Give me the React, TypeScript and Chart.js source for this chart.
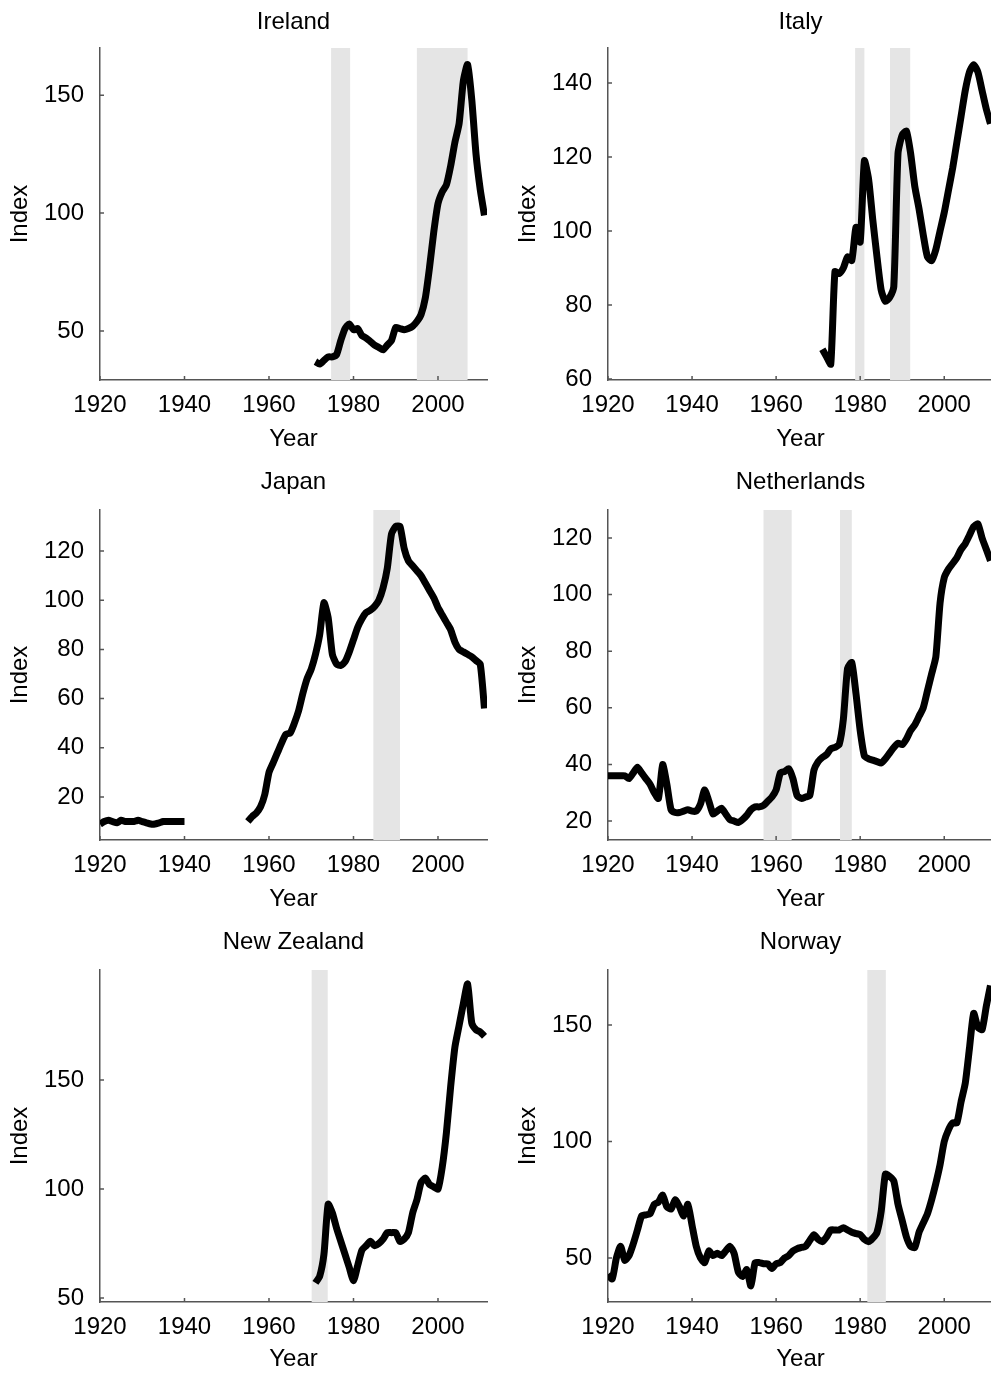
import { useEffect, useRef } from "react"
import { Chart, registerables } from "chart.js"

Chart.register(...registerables)

const FONT = "'Liberation Sans', Arial, sans-serif"
const X_TICKS = [1920, 1940, 1960, 1980, 2000]

// Ireland
const IRELAND_START = 1971
const IRELAND = [37, 36, 37.5, 39, 39, 40, 46, 51, 53, 50.5, 51, 48, 47, 45.5, 44, 43, 42, 44, 46, 51.5, 51, 50.5, 51, 52, 54, 57, 64, 77, 92, 104, 109, 112, 120, 130, 138, 156, 163, 148, 125, 110, 99]
const IRELAND_BANDS = [[1974.7, 1979.2], [1995, 2007]]
const IRELAND_YTICKS = [50, 100, 150]

// Italy
const ITALY_START = 1971
const ITALY = [68, 66, 64, 89, 88.5, 90, 93, 92, 101, 97, 119, 114, 103, 93, 84, 81, 82, 85, 121, 126, 127, 121, 112, 106, 99, 93, 92, 95, 100, 105, 111, 117, 124, 131, 138, 143, 145, 143, 138, 133, 129]
const ITALY_BANDS = [[1978.8, 1981], [1987.1, 1991.9]]
const ITALY_YTICKS = [60, 80, 100, 120, 140]

// Japan (two runs, gap 1941-1954)
const JAPAN_PRE_START = 1920
const JAPAN_PRE = [9, 10, 10.5, 10, 9.5, 10.5, 10, 10, 10, 10.5, 10, 9.5, 9, 9, 9.5, 10, 10, 10, 10, 10, 10]
const JAPAN_POST_START = 1955
const JAPAN_POST = [10, 12, 13.5, 16, 21, 30, 34, 38, 42, 45.5, 46, 50, 55, 62, 68, 72, 78, 86, 99, 93, 78, 74, 73.5, 75, 79, 84, 89, 92.5, 95, 96, 97.5, 100, 105, 113, 127, 130, 130, 121, 116, 114, 112, 110, 107, 104, 101, 97, 94, 91, 88, 83, 80, 79, 78, 77, 75.5, 74, 56]
const JAPAN_BANDS = [[1984.7, 1991]]
const JAPAN_YTICKS = [20, 40, 60, 80, 100, 120]

// Netherlands
const NETH_START = 1920
const NETH = [36, 36, 36, 36, 36, 35, 37, 39, 37, 35, 33, 30, 28, 40, 33, 24, 23, 23, 23.5, 24, 23.5, 23.5, 26, 31, 27, 22.5, 23.5, 24.5, 22.5, 20.5, 20, 19.5, 20.5, 22, 24, 25, 25, 25.5, 27, 28.5, 31, 37, 37.5, 38.5, 35, 29, 28, 28.5, 29, 38, 41, 42.5, 43.5, 45.5, 46, 47, 56, 74, 76, 65, 52, 43, 42, 41.5, 41, 40.5, 42, 44, 46, 47.5, 47, 49, 52, 54, 57, 60, 66, 72, 78, 97, 106, 109, 111, 113, 116, 118, 121, 124, 125, 120, 116, 112]
const NETH_BANDS = [[1957, 1963.7], [1975.2, 1978]]
const NETH_YTICKS = [20, 40, 60, 80, 100, 120]

// New Zealand
const NZ_START = 1971
const NZ = [57, 60, 70, 93, 89, 82, 76, 70, 64, 58, 65, 72, 74, 76, 74, 75, 77, 80, 80, 80, 76, 77, 80, 89, 95, 103, 105, 102, 101, 100, 110, 126, 147, 165, 175, 185, 194, 176, 173, 172, 170]
const NZ_BANDS = [[1970.1, 1973.9]]
const NZ_YTICKS = [50, 100, 150]

// Norway
const NORWAY_START = 1920
const NORWAY = [43, 41, 50, 55, 49, 51, 56, 62, 68, 68.5, 69, 73, 74, 77, 72, 71, 75, 72, 68, 73, 64, 55, 50, 48, 53, 51, 52, 51, 53, 55, 52, 44, 42, 45, 38, 48, 48, 47.5, 47.5, 45.5, 47.5, 48, 50, 51, 53, 54, 54.5, 55, 57.5, 60, 58, 57, 59, 62, 62, 62, 63, 62, 61, 60.5, 60, 58, 57, 58.5, 61, 70, 86, 85, 83, 73, 66, 59, 55, 54.5, 61, 65, 69, 75, 82, 90, 100, 105, 108, 108, 117, 125, 140, 155, 149, 148, 158, 167]
const NORWAY_BANDS = [[1981.7, 1986.1]]
const NORWAY_YTICKS = [50, 100, 150]

const toPoints = (start: number, vals: number[]) => vals.map((v, i) => ({ x: start + i, y: v }))

const AXIS = "#555"

// shaded bands behind the line, and short inward tick marks
const bandPlugin = {
  id: "bands",
  beforeDatasetsDraw(chart: any, _args: any, opts: any) {
    const { ctx, chartArea, scales } = chart
    ctx.save()
    ctx.fillStyle = "#e5e5e5"
    for (const [a, b] of opts.bands || []) {
      const x1 = scales.x.getPixelForValue(a)
      const x2 = scales.x.getPixelForValue(b)
      ctx.fillRect(x1, chartArea.top, x2 - x1, chartArea.bottom - chartArea.top)
    }
    ctx.strokeStyle = AXIS
    ctx.lineWidth = 1.5
    ctx.beginPath()
    for (const t of scales.x.ticks) {
      const x = scales.x.getPixelForValue(t.value)
      ctx.moveTo(x, chartArea.bottom)
      ctx.lineTo(x, chartArea.bottom - 4)
    }
    for (const t of scales.y.ticks) {
      const y = scales.y.getPixelForValue(t.value)
      ctx.moveTo(chartArea.left, y)
      ctx.lineTo(chartArea.left + 4, y)
    }
    ctx.stroke()
    ctx.restore()
  },
}

interface PanelProps {
  title: string
  points: ({ x: number; y: number } | { x: number; y: null })[]
  bands: number[][]
  yTicks: number[]
  yMin: number
  yMax: number
  left: number
  top: number
  width: number
  height: number
  padTop: number
  padRight: number
  plotBottom: number
  yearPad: number
}

function Panel(p: PanelProps) {
  const ref = useRef<HTMLCanvasElement>(null)

  useEffect(() => {
    if (!ref.current) return
    const chart = new Chart(ref.current, {
      type: "line",
      data: {
        datasets: [
          {
            data: p.points as any,
            borderColor: "#000",
            borderWidth: 7,
            pointRadius: 0,
            tension: 0.2,
            spanGaps: false,
            borderJoinStyle: "round",
          },
        ],
      },
      plugins: [bandPlugin],
      options: {
        animation: false,
        responsive: false,
        layout: { padding: { top: p.padTop, left: 0, right: p.padRight, bottom: 0 } },
        plugins: {
          legend: { display: false },
          tooltip: { enabled: false },
          bands: { bands: p.bands },
        } as any,
        scales: {
          x: {
            type: "linear",
            min: 1920,
            max: 2011.6,
            afterBuildTicks: (s: any) => { s.ticks = X_TICKS.map((v) => ({ value: v })) },
            afterFit: (s: any) => { s.height = p.height - p.plotBottom },
            grid: { display: false },
            border: { display: true, color: AXIS, width: 1.5 },
            ticks: { color: "#000", font: { family: FONT, size: 24 }, padding: 3, maxRotation: 0, callback: (v: any) => String(v) },
            title: { display: true, text: "Year", color: "#000", font: { family: FONT, size: 24 }, padding: { top: 0, bottom: p.yearPad } },
          },
          y: {
            type: "linear",
            min: p.yMin,
            max: p.yMax,
            afterBuildTicks: (s: any) => { s.ticks = p.yTicks.map((v) => ({ value: v })) },
            afterFit: (s: any) => { s.width = 100 },
            grid: { display: false },
            border: { display: true, color: AXIS, width: 1.5 },
            ticks: { color: "#000", font: { family: FONT, size: 24 }, padding: 8, callback: (v: any) => String(v) },
            title: { display: true, text: "Index", color: "#000", font: { family: FONT, size: 24 }, padding: { top: 6, bottom: 0 } },
          },
        },
      },
    })
    return () => chart.destroy()
  }, [])

  return (
    <div style={{ position: "absolute", left: p.left, top: p.top, width: p.width, height: p.height }}>
      <div style={{ position: "absolute", left: 100, width: p.width - 100 - p.padRight, top: 7, textAlign: "center", font: `24px ${FONT}`, lineHeight: "28px", color: "#000" }}>{p.title}</div>
      <canvas ref={ref} width={p.width} height={p.height} style={{ width: p.width, height: p.height, display: "block" }} />
    </div>
  )
}

export default function App() {
  const japan = [
    ...toPoints(JAPAN_PRE_START, JAPAN_PRE),
    { x: 1947, y: null },
    ...toPoints(JAPAN_POST_START, JAPAN_POST),
  ]
  const L = { left: 0, width: 495, padRight: 8 }
  const R = { left: 508, width: 485, padRight: 0 }
  const r1 = { top: 0, height: 460, padTop: 48, plotBottom: 380, yearPad: 6 }
  const r2 = { top: 460, height: 460, padTop: 50, plotBottom: 380, yearPad: 6 }
  const r3 = { top: 920, height: 454, padTop: 50, plotBottom: 382, yearPad: 0 }
  return (
    <div style={{ position: "fixed", left: 0, top: 0, width: 991, height: 1374, overflow: "hidden", background: "#fff" }}>
      <Panel title="Ireland" points={toPoints(IRELAND_START, IRELAND)} bands={IRELAND_BANDS} yTicks={IRELAND_YTICKS} yMin={29.2} yMax={170} {...L} {...r1} />
      <Panel title="Italy" points={toPoints(ITALY_START, ITALY)} bands={ITALY_BANDS} yTicks={ITALY_YTICKS} yMin={59.7} yMax={149.5} {...R} {...r1} />
      <Panel title="Japan" points={japan} bands={JAPAN_BANDS} yTicks={JAPAN_YTICKS} yMin={2.5} yMax={136.7} {...L} {...r2} />
      <Panel title="Netherlands" points={toPoints(NETH_START, NETH)} bands={NETH_BANDS} yTicks={NETH_YTICKS} yMin={13.3} yMax={129.9} {...R} {...r2} />
      <Panel title="New Zealand" points={toPoints(NZ_START, NZ)} bands={NZ_BANDS} yTicks={NZ_YTICKS} yMin={48.2} yMax={200.4} {...L} {...r3} />
      <Panel title="Norway" points={toPoints(NORWAY_START, NORWAY)} bands={NORWAY_BANDS} yTicks={NORWAY_YTICKS} yMin={31.1} yMax={173.6} {...R} {...r3} />
    </div>
  )
}
